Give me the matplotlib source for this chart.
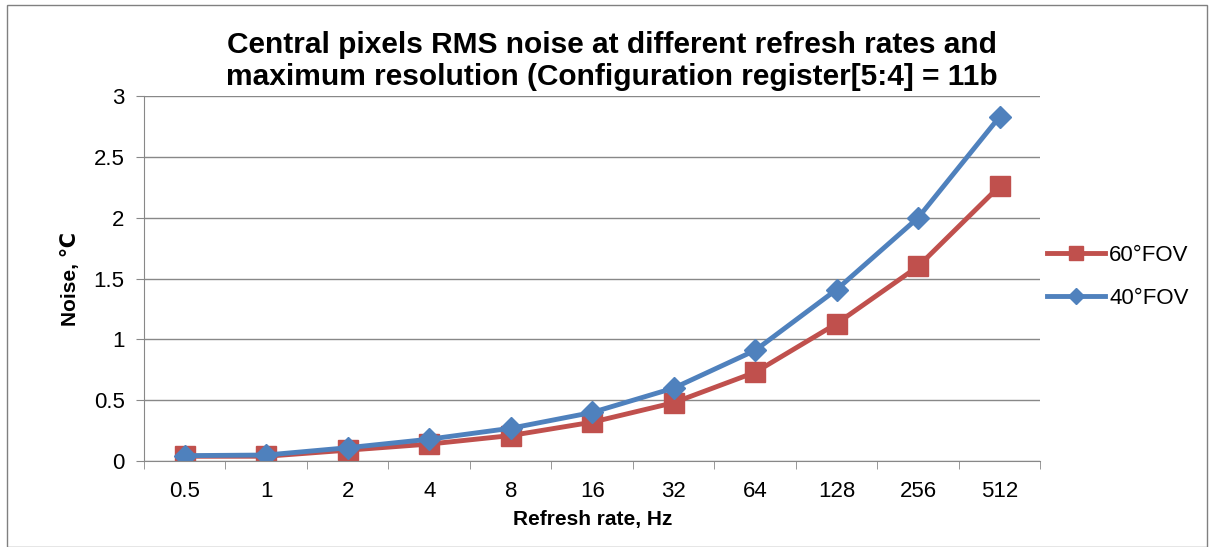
import matplotlib.pyplot as plt
from matplotlib.patches import Rectangle

plt.rcParams['font.family'] = ['Liberation Sans', 'DejaVu Sans']

refresh_rates = ['0.5', '1', '2', '4', '8', '16', '32', '64', '128', '256', '512']
noise_60fov = [0.04, 0.04, 0.09, 0.14, 0.21, 0.32, 0.48, 0.73, 1.13, 1.60, 2.26]
noise_40fov = [0.045, 0.05, 0.11, 0.18, 0.27, 0.40, 0.60, 0.91, 1.41, 2.00, 2.83]

red = '#C0504D'
blue = '#4F81BD'

fig = plt.figure(figsize=(12.14, 5.47), dpi=100)
ax = fig.add_axes([0.1186, 0.157, 0.7384, 0.6675])

x = list(range(len(refresh_rates)))
ax.plot(x, noise_60fov, color=red, lw=3.5, marker='s', ms=14, label='60°FOV')
ax.plot(x, noise_40fov, color=blue, lw=3.5, marker='D', ms=11, label='40°FOV')

ax.set_xlim(-0.5, len(refresh_rates) - 0.5)
ax.set_ylim(0, 3)
ax.set_yticks([0, 0.5, 1, 1.5, 2, 2.5, 3])
ax.set_yticklabels(['0', '0.5', '1', '1.5', '2', '2.5', '3'])
ax.set_xticks(x)
ax.set_xticklabels(refresh_rates)
ax.set_xticks([i - 0.5 for i in range(len(refresh_rates) + 1)], minor=True)
ax.tick_params(axis='x', which='major', length=0, pad=14, labelsize=16)
ax.tick_params(axis='x', which='minor', length=6, color='#888888', direction='out')
ax.tick_params(axis='y', length=6, color='#888888', labelsize=16, pad=8)

ax.grid(axis='y', color='#888888', lw=1)
ax.set_axisbelow(True)
for s in ['top', 'right']:
    ax.spines[s].set_visible(False)
ax.spines['left'].set_color('#888888')
ax.spines['bottom'].set_color('#888888')

ax.set_xlabel('Refresh rate, Hz', fontsize=15, fontweight='bold', labelpad=6)
ax.set_ylabel('Noise, ℃', fontsize=15, fontweight='bold', labelpad=10)

fig.text(0.504, 0.833, 'Central pixels RMS noise at different refresh rates and\n'
         'maximum resolution (Configuration register[5:4] = 11b',
         ha='center', va='bottom', fontsize=21.5, fontweight='bold', linespacing=1.22)

ax.legend(loc='center left', bbox_to_anchor=(0.985, 0.505), frameon=False, fontsize=16,
          handlelength=2.6, labelspacing=1.0, handletextpad=0.2, markerscale=0.75)

fig.patches.append(Rectangle((0.006, 0.0), 0.988, 0.99, transform=fig.transFigure,
                             fill=False, edgecolor='#808080', lw=1))

fig.savefig('out.png', dpi=100)
